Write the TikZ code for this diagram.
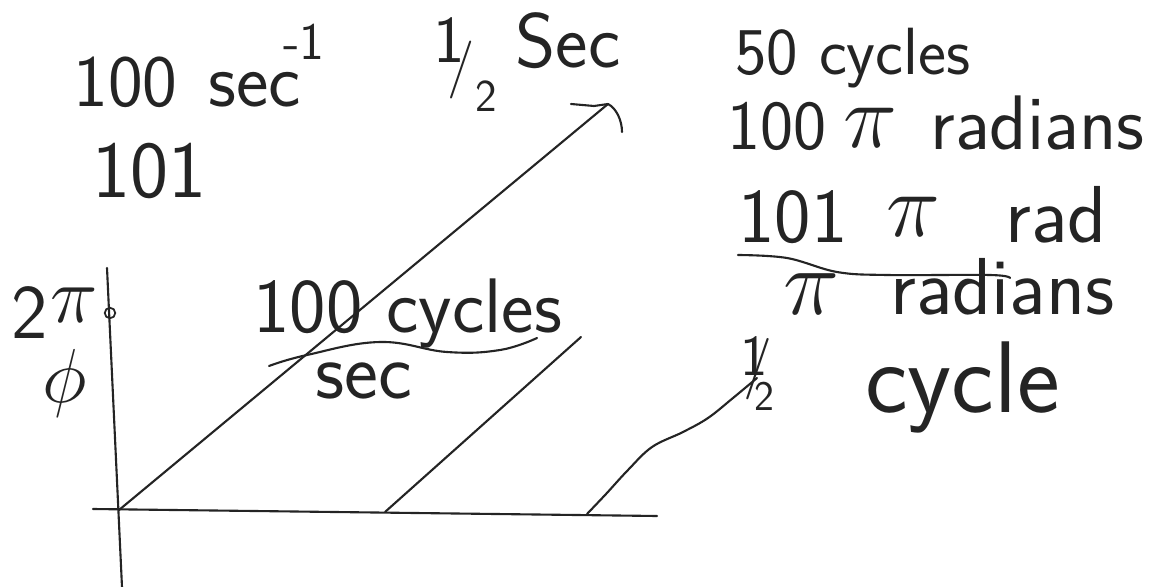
\documentclass[tikz,border=0pt]{standalone}
\usepackage{amsmath,amssymb}
\usepackage{tikz}
\usepackage{xcolor}
\usetikzlibrary{arrows.meta,calc,positioning}
\definecolor{skInk}{RGB}{36,36,36}
\definecolor{skPaper}{RGB}{255,255,255}
\newcommand{\handsize}[1]{\sffamily\fontsize{#1}{#1}\selectfont}
\newcommand{\handsym}[2]{\scalebox{#1}{\fontsize{20}{20}\selectfont$#2$}}
\newcommand{\handbit}[3]{\raisebox{#2}{\handsize{#1}#3}}
\tikzset{
  ink/.style={draw=skInk,line width=1.2pt,line cap=round,line join=round},
  hand/.style={text=skInk,inner sep=0pt,anchor=base west,font=\handsize{#1}},
  hand/.default=40
}

\begin{document}
\begin{tikzpicture}[x=0.02cm,y=-0.02cm]
  \fill[skPaper] (0,0) rectangle (1162,587);
  \useasboundingbox (0,0) rectangle (1162,587);
  % axes
  \coordinate (yTop) at (107,268);
  \coordinate (yBot) at (122,587);
  \coordinate (xLeft) at (93,509);
  \coordinate (xRight) at (657,516);
  \coordinate (orig) at (119,510);
  \draw[ink] (yTop)--(yBot);
  \draw[ink] (xLeft)--(xRight);
  \node[circle,draw=skInk,line width=1pt,inner sep=0pt,minimum size=6pt] (twoPiMark) at (110,313) {};
  \node[hand=44] (twoLbl) at (11,338) {2};
  \node[hand] (twoPi) at (50,322) {\handsym{2.2}{\pi}};
  \node[hand,anchor=center] (phiLbl) at (65,383) {\handsym{2.1}{\phi}};
  % phase lines
  \coordinate (tipA) at (608,104);
  \coordinate (footB) at (385,512);
  \coordinate (tipB) at (581,337);
  \coordinate (footC) at (587,514);
  \coordinate (tipC) at (757,378);
  \draw[ink] (orig)--(tipA);
  \draw[ink] (tipA)--(594,106)--(571,104);
  \draw[ink] (tipA) .. controls (616,108) and (622,120) .. (622,132);
  \draw[ink] (footB)--(tipB);
  \draw[ink] plot[smooth,tension=0.6] coordinates {(587,514) (606,494) (628,470) (652,447) (683,432) (708,418) (733,398) (757,378)};
  % labels left
  \node[hand=42] (rateNum) at (73,107) {100};
  \node[hand=44] (rateSec) at (208,107) {sec};
  \node[hand=30] (rateExp) at (283,60) {-1};
  \node[hand=46] (oneLbl) at (92,198) {101};
  \node[hand=33] (halfLbl) at (433,85)
    {\handbit{38}{13pt}{1}\kern-9.6pt/\handbit{26}{-15pt}{2}};
  \node[hand=44] (secLbl) at (515,68) {Sec};
  \node[hand=44] (cycLbl) at (253,333) {100 cycles};
  \draw[ink] plot[smooth,tension=0.7] coordinates {(269,366) (307,355) (380,342) (447,352) (500,350) (537,338)};
  \node[hand=46] (perSec) at (315,398) {sec};
  % labels right
  \node[hand=38] (fiftyLbl) at (735,75) {50 cycles};
  \node[hand=40] (radNum) at (727,150) {100};
  \node[hand] (radPi) at (843,148) {\handsym{2.5}{\pi}};
  \node[hand=44] (radWord) at (930,150) {radians};
  \node[hand=44] (radTwoNum) at (738,243) {101};
  \node[hand] (radTwoPi) at (886,237) {\handsym{2.5}{\pi}};
  \node[hand=46] (radTwoWord) at (1005,243) {rad};
  \draw[ink] plot[smooth,tension=0.6] coordinates {(738,255) (787,258) (837,272) (887,275) (990,275) (1010,278)};
  \node[hand] (piRadPi) at (783,315) {\handsym{2.6}{\pi}};
  \node[hand=46] (piRadWord) at (890,315) {radians};
  \node[hand=35] (cycHalf) at (740,384)
    {\handbit{33}{5pt}{1}\kern-14pt/\kern-10pt\handbit{24}{-14.8pt}{2}};
  \node[hand=58] (halfCyc) at (865,412) {cycle};
\end{tikzpicture}
\end{document}
